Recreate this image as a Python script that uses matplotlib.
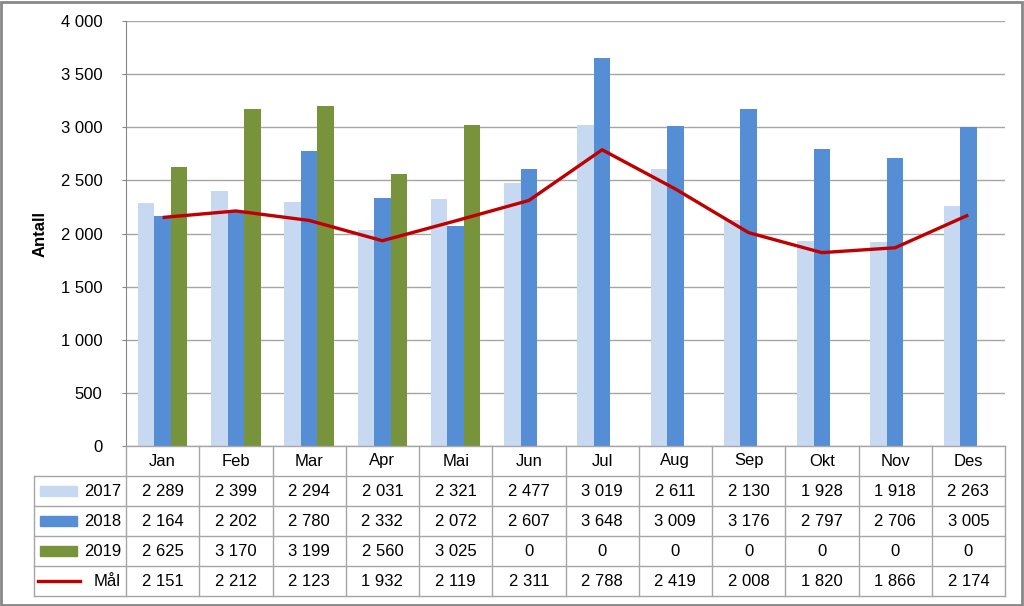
import matplotlib.pyplot as plt
from matplotlib.lines import Line2D
from matplotlib.patches import Rectangle
import numpy as np

months = ['Jan', 'Feb', 'Mar', 'Apr', 'Mai', 'Jun', 'Jul', 'Aug', 'Sep', 'Okt', 'Nov', 'Des']
v2017 = [2289, 2399, 2294, 2031, 2321, 2477, 3019, 2611, 2130, 1928, 1918, 2263]
v2018 = [2164, 2202, 2780, 2332, 2072, 2607, 3648, 3009, 3176, 2797, 2706, 3005]
v2019 = [2625, 3170, 3199, 2560, 3025, 0, 0, 0, 0, 0, 0, 0]
maal = [2151, 2212, 2123, 1932, 2119, 2311, 2788, 2419, 2008, 1820, 1866, 2174]
yticks = [0, 500, 1000, 1500, 2000, 2500, 3000, 3500, 4000]

c2017 = '#C6D9F1'
c2018 = '#558ED5'
c2019 = '#77933C'
cmaal = '#C00000'
gridc = '#A6A6A6'

plt.rcParams['font.family'] = ['Liberation Sans', 'DejaVu Sans']

W, H = 1024, 606
fig = plt.figure(figsize=(W / 100, H / 100), dpi=100)


def fx(x):
    return x / W


def fy(y):
    return 1 - y / H


left, right, top, bottom = 126, 1005, 21, 446
ax = fig.add_axes([fx(left), fy(bottom), fx(right - left), (bottom - top) / H])

x = np.arange(len(months))
w = 0.225
ax.bar(x - w, v2017, w, color=c2017, zorder=2)
ax.bar(x, v2018, w, color=c2018, zorder=2)
ax.bar(x + w, v2019, w, color=c2019, zorder=2)
ax.plot(x, maal, color=cmaal, lw=2.4, zorder=3, solid_capstyle='butt')

ax.set_xlim(-0.5, 11.5)
ax.set_ylim(0, 4000)
ax.set_yticks(yticks)
ax.set_yticklabels([f'{t:,}'.replace(',', ' ') for t in yticks], fontsize=12)
ax.set_xticks([])
ax.grid(axis='y', color=gridc, lw=1, zorder=0)
for s in ['top', 'right', 'bottom']:
    ax.spines[s].set_visible(False)
ax.spines['left'].set_color('#868686')
ax.tick_params(axis='y', length=3, color='#868686', pad=14)
fig.text(fx(40), fy(234), 'Antall', rotation=90, ha='center', va='center',
         fontsize=12, fontweight='bold')

# data table under the plot
cell_w = (right - left) / 12
row_h = 30
tab_left = 34
rows = [('2017', v2017), ('2018', v2018), ('2019', v2019), ('Mål', maal)]
fs = 12


def hline(x0, x1, y):
    fig.add_artist(Line2D([fx(x0), fx(x1)], [fy(y), fy(y)], color=gridc, lw=1))


def vline(x, y0, y1):
    fig.add_artist(Line2D([fx(x), fx(x)], [fy(y0), fy(y1)], color=gridc, lw=1))


hline(left, right, bottom)
for i in range(1, 6):
    hline(tab_left, right, bottom + i * row_h)
vline(tab_left, bottom + row_h, bottom + 5 * row_h)
for j in range(13):
    vline(left + j * cell_w, bottom, bottom + 5 * row_h)

for j, m in enumerate(months):
    fig.text(fx(left + (j + 0.5) * cell_w), fy(bottom + row_h / 2), m,
             ha='center', va='center', fontsize=fs)

for i, (name, vals) in enumerate(rows):
    yc = bottom + (i + 1.5) * row_h
    for j, v in enumerate(vals):
        fig.text(fx(left + (j + 0.5) * cell_w), fy(yc), f'{v:,}'.replace(',', ' '),
                 ha='center', va='center', fontsize=fs)
    fig.text(fx(121), fy(yc), name, ha='right', va='center', fontsize=fs)
    if name == 'Mål':
        fig.add_artist(Line2D([fx(38), fx(80)], [fy(yc), fy(yc)], color=cmaal, lw=2.4))
    else:
        col = {'2017': c2017, '2018': c2018, '2019': c2019}[name]
        fig.add_artist(Rectangle((fx(40), fy(yc + 5)), fx(37), 10 / H,
                                 color=col, transform=fig.transFigure))

# outer frame
fig.add_artist(Rectangle((0.001, 0.002), 0.997, 0.995, fill=False, ec='#888888', lw=2,
                         transform=fig.transFigure))

fig.savefig('out.png', dpi=100)
